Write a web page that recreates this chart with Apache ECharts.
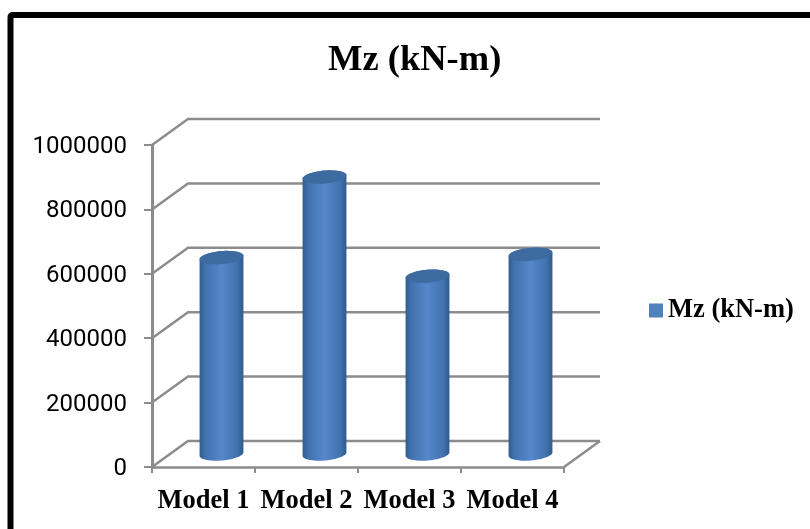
<!DOCTYPE html>
<html>
<head>
<meta charset="utf-8">
<style>
  html, body { margin: 0; padding: 0; background: #fff; }
  #chart { width: 810px; height: 529px; }
</style>
<script src="https://cdn.jsdelivr.net/npm/echarts@6/dist/echarts.min.js"></script>
</head>
<body>
<div id="chart"></div>
<script>
var categories = ['Model 1', 'Model 2', 'Model 3', 'Model 4'];
var mzValues = [610000, 860000, 552000, 620000];
var yTicks = [0, 200000, 400000, 600000, 800000, 1000000];
var seriesName = 'Mz (kN-m)';

// 3D look: how far the back wall sits from the axes
var depthX = 36;
var depthY = -26;
var gray = '#8c8c8c';

var chart = echarts.init(document.getElementById('chart'));

// one wall line per y tick: diagonal on the side, then along the back
function renderWall(params, api) {
  var p = api.coord([0, api.value(0)]);
  var cs = params.coordSys;
  var y = p[1];
  var children = [{
    type: 'polyline',
    shape: { points: [[cs.x, y], [cs.x + depthX, y + depthY], [cs.x + cs.width + depthX, y + depthY]] },
    style: { fill: null, stroke: gray, lineWidth: 2.5 }
  }];
  if (api.value(0) === 0) {
    children.push({
      type: 'line',
      shape: { x1: cs.x + cs.width, y1: y, x2: cs.x + cs.width + depthX, y2: y + depthY },
      style: { stroke: gray, lineWidth: 2.5 }
    });
  }
  return { type: 'group', children: children };
}

// points along a tilted ellipse, from angle a0 to a1 (degrees)
function arcPoints(cx, cy, a0, a1) {
  var rx = 22, ry = 6.5, tilt = -5 * Math.PI / 180;
  var pts = [];
  for (var a = a0; a <= a1; a += 6) {
    var t = a * Math.PI / 180;
    var ex = rx * Math.cos(t), ey = ry * Math.sin(t);
    pts.push([
      cx + ex * Math.cos(tilt) - ey * Math.sin(tilt),
      cy + ex * Math.sin(tilt) + ey * Math.cos(tilt)
    ]);
  }
  return pts;
}

function renderCylinder(params, api) {
  var i = api.value(0);
  var base = api.coord([i, 0]);
  var top = api.coord([i, api.value(1)]);
  var cx = base[0] + depthX / 2;
  var by = base[1] + depthY / 2;
  var ty = top[1] + depthY / 2;

  return {
    type: 'group',
    children: [{
      type: 'polygon',
      shape: { points: arcPoints(cx, by, 0, 180).concat(arcPoints(cx, ty, 180, 360)) },
      style: {
        fill: new echarts.graphic.LinearGradient(0, 0, 1, 0, [
          { offset: 0, color: '#315d91' },
          { offset: 0.14, color: '#4273af' },
          { offset: 0.5, color: '#5587ca' },
          { offset: 0.85, color: '#4273af' },
          { offset: 1, color: '#2f5a8c' }
        ])
      }
    }, {
      type: 'polygon',
      shape: { points: arcPoints(cx, ty, 0, 360) },
      style: { fill: '#3d6a9f' }
    }]
  };
}

chart.setOption({
  animation: false,
  backgroundColor: '#fff',
  title: {
    text: seriesName,
    left: 323,
    top: 37,
    textStyle: { fontFamily: 'Liberation Serif', fontWeight: 'bold', fontSize: 36.5, color: '#000' }
  },
  legend: {
    data: [{ name: seriesName, icon: 'rect' }],
    left: 644,
    top: 292,
    itemWidth: 14,
    itemHeight: 14,
    itemGap: 6,
    textStyle: { fontFamily: 'Liberation Serif', fontWeight: 'bold', fontSize: 26.5, color: '#000', padding: [0, 0, 0, 0] }
  },
  grid: { left: 152, top: 145, width: 412, height: 322 },
  xAxis: {
    type: 'category',
    data: categories,
    axisLine: { lineStyle: { color: gray, width: 2.5 } },
    axisTick: { show: true, alignWithLabel: false, length: 6, lineStyle: { color: gray, width: 2 } },
    axisLabel: { fontFamily: 'Liberation Serif', fontWeight: 'bold', fontSize: 26.5, color: '#000', margin: 21, interval: 0 }
  },
  yAxis: {
    type: 'value',
    min: 0,
    max: 1000000,
    interval: 200000,
    splitLine: { show: false },
    axisLine: { show: true, lineStyle: { color: gray, width: 3 } },
    axisTick: { show: true, length: 8, lineStyle: { color: gray, width: 2 } },
    axisLabel: {
      fontFamily: 'Roboto',
      fontSize: 24,
      color: '#000',
      margin: 25,
      verticalAlign: 'top',
      lineHeight: 4,
      formatter: function (v) { return String(v); }
    }
  },
  graphic: [{
    type: 'rect',
    z: -1,
    shape: { x: 10.5, y: 15, width: 830, height: 530, r: 2 },
    style: { fill: null, stroke: '#000', lineWidth: 6 }
  }],
  series: [{
    type: 'custom',
    name: 'wall',
    coordinateSystem: 'cartesian2d',
    renderItem: renderWall,
    encode: { y: 0 },
    data: yTicks.map(function (t) { return [t]; }),
    silent: true,
    z: 1
  }, {
    type: 'custom',
    name: seriesName,
    coordinateSystem: 'cartesian2d',
    renderItem: renderCylinder,
    encode: { x: 0, y: 1 },
    itemStyle: { color: '#4f81bd' },
    data: mzValues.map(function (v, i) { return [i, v]; }),
    z: 3
  }]
});
</script>
</body>
</html>
